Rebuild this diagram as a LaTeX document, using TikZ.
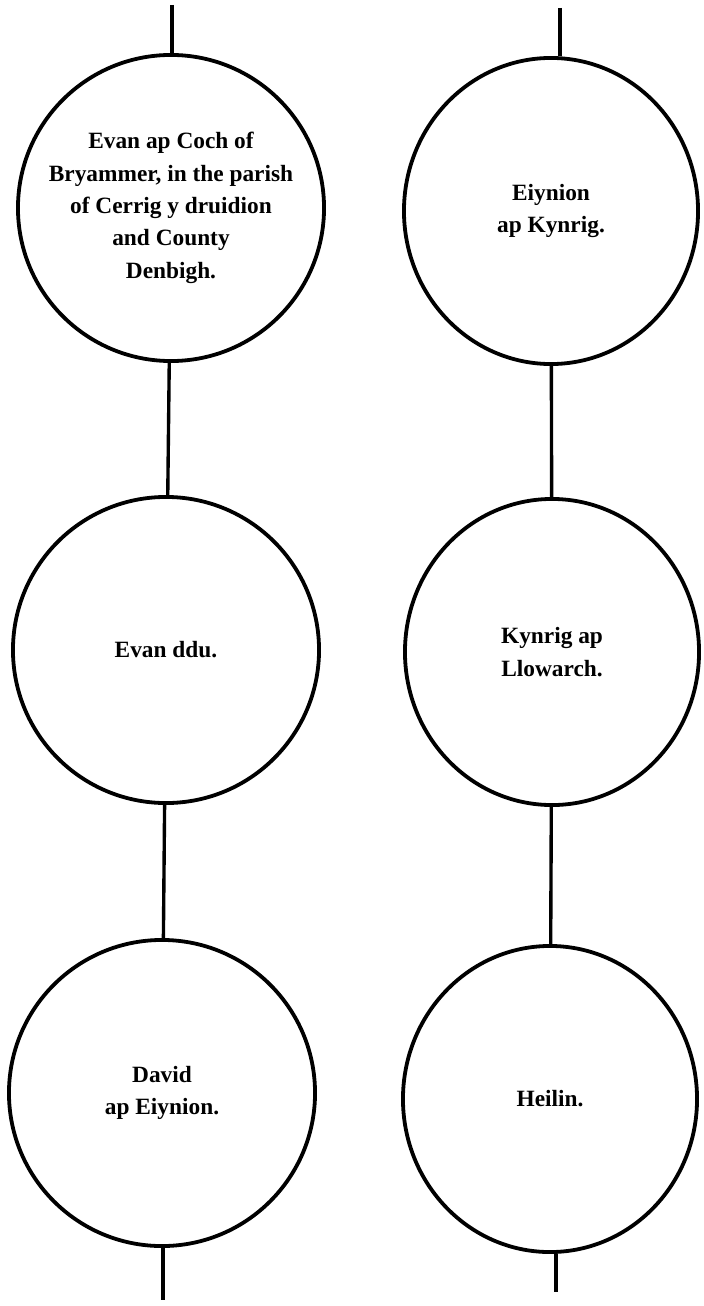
\documentclass[tikz,border=0pt]{standalone}
\usepackage{fontspec}
\setmainfont{Liberation Serif}
\usepackage{tikz}
\usetikzlibrary{shapes.geometric}

\tikzset{
  person/.style={draw, circle, line width=2.7pt, minimum size=7.65cm, inner sep=0pt,
    align=center, font=\bfseries\fontsize{16.6}{23}\selectfont},
  narrow/.style={ellipse, minimum width=7.35cm, minimum height=7.65cm},
  stem/.style={line width=2.4pt}
}

\begin{document}
\begin{tikzpicture}[x=0.025cm,y=-0.025cm]
  \useasboundingbox (0,0) rectangle (703,1306);

  % Free ends of the lines
  \coordinate (ltop) at (172,5);
  \coordinate (lend) at (163,1300);
  \coordinate (rtop) at (560,8);
  \coordinate (rend) at (556,1292);

  % Left column
  \node[person] (evan) at (171,208) {Evan ap Coch of\\Bryammer, in the parish\\of Cerrig y druidion\\and County\\Denbigh.};
  \node[person] (evanddu) at (166,650) {Evan ddu.};
  \node[person] (david) at (162,1093) {David\\ap Eiynion.};

  % Right column
  \node[person,narrow] (eiynion) at (551,211) {Eiynion\\ap Kynrig.};
  \node[person,narrow] (kynrig) at (552,652) {Kynrig ap\\Llowarch.};
  \node[person,narrow] (heilin) at (550,1099) {Heilin.};

  % Lines of descent
  \draw[stem] (ltop) -- (ltop |- evan.north);
  \draw[stem] (evan) -- (evanddu);
  \draw[stem] (evanddu) -- (david);
  \draw[stem] (lend |- david.south) -- (lend);

  \draw[stem] (rtop) -- (rtop |- eiynion.north);
  \draw[stem] (eiynion) -- (kynrig);
  \draw[stem] (kynrig) -- (heilin);
  \draw[stem] (rend |- heilin.south) -- (rend);
\end{tikzpicture}
\end{document}
